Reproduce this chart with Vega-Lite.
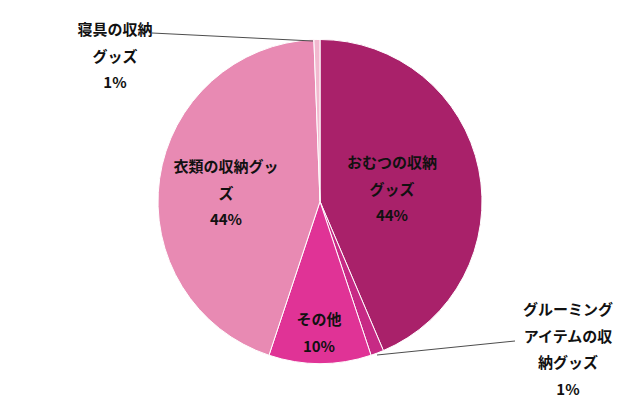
{
  "$schema": "https://vega.github.io/schema/vega-lite/v6.json",
  "width": 640,
  "height": 403,
  "autosize": {"type": "none"},
  "padding": 0,
  "background": "white",
  "config": {"view": {"stroke": null}},
  "datasets": {
    "slices": [
      {"item": "おむつの収納グッズ", "share": 43.6, "ord": 1},
      {"item": "グルーミングアイテムの収納グッズ", "share": 1.3, "ord": 2},
      {"item": "その他", "share": 10.2, "ord": 3},
      {"item": "衣類の収納グッズ", "share": 44.3, "ord": 4},
      {"item": "寝具の収納グッズ", "share": 0.6, "ord": 5}
    ],
    "labels": [
      {"label": "寝具の収納\nグッズ\n1%", "lx": -204, "ly": 173},
      {"label": "衣類の収納グッ\nズ\n44%", "lx": -93, "ly": 36},
      {"label": "おむつの収納\nグッズ\n44%", "lx": 73, "ly": 40},
      {"label": "その他\n10%", "lx": 0, "ly": -117},
      {"label": "グルーミング\nアイテムの収\n納グッズ\n1%", "lx": 249, "ly": -107}
    ],
    "leaders": [
      {"x1": -167, "y1": 170, "x2": -6, "y2": 162},
      {"x1": 58, "y1": -152, "x2": 196, "y2": -138}
    ]
  },
  "layer": [
    {
      "data": {"name": "slices"},
      "mark": {"type": "arc", "outerRadius": 162, "stroke": "white", "strokeWidth": 1},
      "encoding": {
        "theta": {"field": "share", "type": "quantitative", "stack": true},
        "order": {"field": "ord", "type": "quantitative"},
        "color": {
          "field": "item",
          "type": "nominal",
          "legend": null,
          "scale": {
            "domain": ["おむつの収納グッズ", "グルーミングアイテムの収納グッズ", "その他", "衣類の収納グッズ", "寝具の収納グッズ"],
            "range": ["#A9216A", "#C72A85", "#E03396", "#E88AB3", "#F2B8CF"]
          }
        }
      }
    },
    {
      "data": {"name": "leaders"},
      "mark": {"type": "rule", "color": "#4d4d4d", "strokeWidth": 1},
      "encoding": {
        "x": {"field": "x1", "type": "quantitative", "axis": null, "scale": {"domain": [-319, 321]}},
        "y": {"field": "y1", "type": "quantitative", "axis": null, "scale": {"domain": [-200, 203]}},
        "x2": {"field": "x2"},
        "y2": {"field": "y2"}
      }
    },
    {
      "data": {"name": "labels"},
      "mark": {
        "type": "text",
        "font": "Noto Sans CJK JP",
        "fontWeight": "bold",
        "fontSize": 15,
        "lineHeight": 26.5,
        "lineBreak": "\n",
        "align": "center",
        "baseline": "middle",
        "color": "#111111"
      },
      "encoding": {
        "x": {"field": "lx", "type": "quantitative", "axis": null, "scale": {"domain": [-319, 321]}},
        "y": {"field": "ly", "type": "quantitative", "axis": null, "scale": {"domain": [-200, 203]}},
        "text": {"field": "label", "type": "nominal"}
      }
    }
  ]
}
